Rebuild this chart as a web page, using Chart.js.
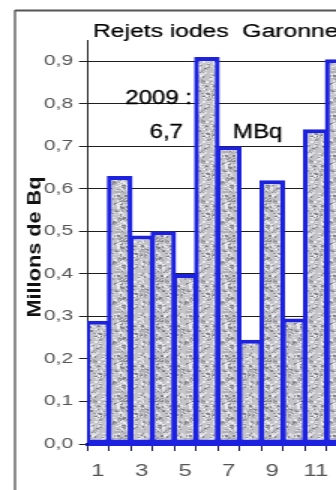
<!DOCTYPE html>
<html>
<head>
<meta charset="utf-8">
<title>Rejets iodes Garonne</title>
<script src="https://cdn.jsdelivr.net/npm/chart.js@4.4.0/dist/chart.umd.min.js"></script>
<style>
  html, body { margin: 0; padding: 0; background: #fff; }
  #wrap { width: 336px; height: 490px; overflow: hidden; }
  /* the chart is drawn narrow and stretched horizontally */
  #stretch { width: 240px; height: 490px; transform: scaleX(1.5); transform-origin: 0 0; }
  #chart { display: block; }
</style>
</head>
<body>
<div id="wrap"><div id="stretch"><canvas id="chart" width="240" height="490"></canvas></div></div>
<script>
// monthly releases 2009, millions of Bq
const months = ['1', '2', '3', '4', '5', '6', '7', '8', '9', '10', '11', '12'];
const rejets2009 = [0.29, 0.63, 0.49, 0.50, 0.40, 0.91, 0.70, 0.245, 0.62, 0.295, 0.74, 0.905];
const xTickLabels = ['1', '', '3', '', '5', '', '7', '', '9', '', '11', ''];
const yTickLabels = ['0,0', '0,1', '0,2', '0,3', '0,4', '0,5', '0,6', '0,7', '0,8', '0,9'];

const chartTitle = 'Rejets iodes  Garonne';
const yTitle = 'Millons de Bq';
const yearText = '2009 :';
const unitText = 'MBq';

const SX = 1.5;                 // horizontal CSS stretch
const px = x => x / SX;         // page x -> canvas x
const FONT = '"Liberation Sans", Arial, sans-serif';
const BLUE = '#1c22e0';
const CAT_W = px(21.8);

const totalText = rejets2009.reduce((a, b) => a + b, 0).toFixed(1).replace('.', ',');

// grey speckled fill for the bars
function speckle(ctx) {
    const c = document.createElement('canvas');
    c.width = 24;
    c.height = 40;
    const g = c.getContext('2d');
    g.fillStyle = '#c4c4c8';
    g.fillRect(0, 0, c.width, c.height);
    let seed = 12345;
    const next = () => (seed = (seed * 16807) % 2147483647) / 2147483647;
    const shades = ['#828288', '#9a9aa0', '#b0b0b6', '#dcdce0', '#ececf0'];
    for (let i = 0; i < 300; i++) {
        g.fillStyle = shades[Math.floor(next() * shades.length)];
        g.fillRect(Math.floor(next() * c.width), Math.floor(next() * c.height),
            1 + Math.floor(next() * 2), 1 + Math.floor(next() * 2));
    }
    return ctx.createPattern(c, 'repeat');
}

// text at page coordinates with its own horizontal stretch
function drawText(ctx, str, x, y, size, stretch, align, weight) {
    ctx.save();
    ctx.translate(px(x), y);
    ctx.scale(stretch / SX, 1);
    ctx.font = size + 'px ' + FONT;
    ctx.fillStyle = '#000';
    ctx.strokeStyle = '#000';
    ctx.lineWidth = weight;
    ctx.textAlign = align;
    ctx.textBaseline = 'alphabetic';
    ctx.fillText(str, 0, 0);
    ctx.strokeText(str, 0, 0);
    ctx.restore();
}

const decor = {
    id: 'decor',
    beforeDraw(chart) {
        const ctx = chart.ctx;
        ctx.save();
        ctx.fillStyle = '#fff';
        ctx.fillRect(0, 0, chart.width, chart.height);
        // frame
        ctx.strokeStyle = '#555';
        ctx.lineWidth = 2;
        ctx.beginPath();
        ctx.moveTo(px(15), 10.5);
        ctx.lineTo(chart.width, 10.5);
        ctx.stroke();
        ctx.lineWidth = px(2);
        ctx.beginPath();
        ctx.moveTo(px(15), 10);
        ctx.lineTo(px(15), chart.height);
        ctx.stroke();
        ctx.restore();

        drawText(ctx, chartTitle, 93, 37, 18, 1.37, 'left', 0.2);

        // axis title
        ctx.save();
        ctx.font = 'bold 18px ' + FONT;
        const w = ctx.measureText(yTitle).width;
        ctx.translate(px(35), 247);
        ctx.scale(1 / SX, 141 / w);
        ctx.rotate(-Math.PI / 2);
        ctx.fillStyle = '#111';
        ctx.textAlign = 'center';
        ctx.textBaseline = 'middle';
        ctx.fillText(yTitle, 0, 0);
        ctx.restore();
    },
    beforeDatasetsDraw(chart) {
        const ctx = chart.ctx;
        drawText(ctx, yearText, 192, 103.5, 20, 1.2, 'right', 0.3);
        drawText(ctx, totalText, 183, 138, 20, 1.2, 'right', 0.3);
        drawText(ctx, unitText, 233, 137.5, 20, 1.2, 'left', 0.3);
    }
};

const canvas = document.getElementById('chart');
const fill = speckle(canvas.getContext('2d'));

new Chart(canvas, {
    type: 'bar',
    data: {
        labels: months,
        datasets: [{
            data: rejets2009,
            backgroundColor: fill,
            borderColor: BLUE,
            borderWidth: { left: px(5), right: px(5), top: 4, bottom: 4 },
            borderSkipped: false,
            barPercentage: 1 + px(4) / CAT_W,
            categoryPercentage: 1
        }]
    },
    options: {
        responsive: false,
        animation: false,
        devicePixelRatio: 1,
        layout: { padding: { top: 40, right: 240 - px(348.6), left: 0, bottom: 0 } },
        plugins: { legend: { display: false }, title: { display: false }, tooltip: { enabled: false } },
        scales: {
            x: {
                afterFit: s => { s.height = 46; },
                grid: { display: true, drawOnChartArea: false, drawTicks: true, tickLength: 7, color: '#1a1a4a', lineWidth: 1, offset: true },
                border: { display: true, color: BLUE, width: 3 },
                ticks: {
                    autoSkip: false, maxRotation: 0, minRotation: 0, padding: 11,
                    color: '#555', font: { family: FONT, size: 16 },
                    callback: (v, i) => xTickLabels[i]
                }
            },
            y: {
                min: 0,
                max: 0.95,
                afterFit: s => { s.width = px(87); },
                grid: { color: '#1e1e1e', lineWidth: 1, tickLength: px(8), tickColor: '#222' },
                border: { display: true, color: '#000', width: px(1.3) },
                ticks: {
                    stepSize: 0.1, includeBounds: false, padding: 4,
                    color: '#555', font: { family: FONT, size: 14 },
                    callback: (v, i) => yTickLabels[i]
                }
            }
        }
    },
    plugins: [decor]
});
</script>
</body>
</html>
